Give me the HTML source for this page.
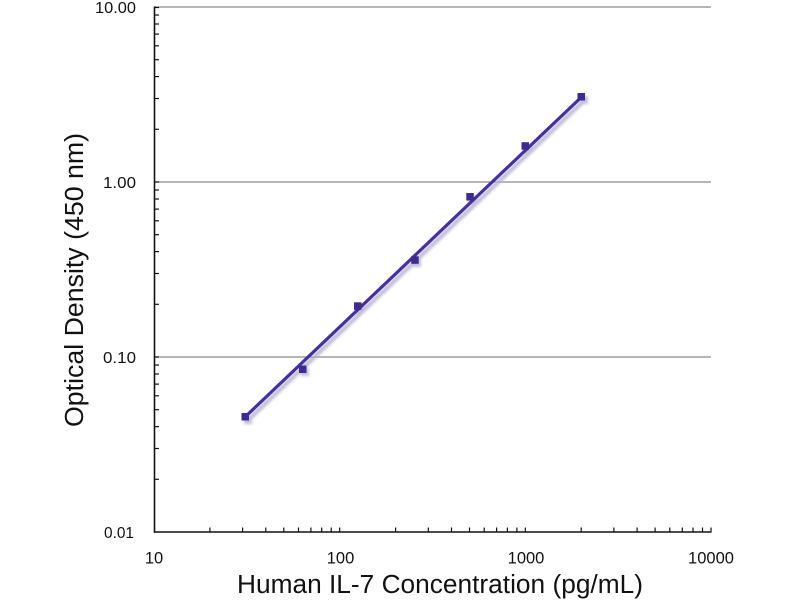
<!DOCTYPE html>
<html>
<head>
<meta charset="utf-8">
<style>
  html, body { margin: 0; padding: 0; background: #ffffff; }
  svg { display: block; }
  text { font-family: "Liberation Sans", "DejaVu Sans", sans-serif; fill: #111; }
</style>
</head>
<body>
<svg width="800" height="600" viewBox="0 0 800 600" xmlns="http://www.w3.org/2000/svg">
  <defs>
    <filter id="sh" x="-10%" y="-10%" width="120%" height="120%">
      <feGaussianBlur stdDeviation="1.2"/>
    </filter>
  </defs>
  <rect x="0" y="0" width="800" height="600" fill="#ffffff"/>

  <!-- gridlines -->
  <line x1="154" y1="7" x2="711" y2="7" stroke="#8a8a8a" stroke-width="1.3"/>
  <line x1="154" y1="182" x2="711" y2="182" stroke="#8a8a8a" stroke-width="1.3"/>
  <line x1="154" y1="357" x2="711" y2="357" stroke="#8a8a8a" stroke-width="1.3"/>

  <!-- y minor ticks -->
  <g stroke="#111" stroke-width="1.2">
    <line x1="154" x2="159" y1="479.3" y2="479.3"/>
    <line x1="154" x2="159" y1="448.5" y2="448.5"/>
    <line x1="154" x2="159" y1="426.6" y2="426.6"/>
    <line x1="154" x2="159" y1="409.7" y2="409.7"/>
    <line x1="154" x2="159" y1="395.8" y2="395.8"/>
    <line x1="154" x2="159" y1="384.1" y2="384.1"/>
    <line x1="154" x2="159" y1="374.0" y2="374.0"/>
    <line x1="154" x2="159" y1="365.0" y2="365.0"/>
    <line x1="154" x2="159" y1="357" y2="357"/>
    <line x1="154" x2="159" y1="304.3" y2="304.3"/>
    <line x1="154" x2="159" y1="273.5" y2="273.5"/>
    <line x1="154" x2="159" y1="251.6" y2="251.6"/>
    <line x1="154" x2="159" y1="234.7" y2="234.7"/>
    <line x1="154" x2="159" y1="220.8" y2="220.8"/>
    <line x1="154" x2="159" y1="209.1" y2="209.1"/>
    <line x1="154" x2="159" y1="199.0" y2="199.0"/>
    <line x1="154" x2="159" y1="190.0" y2="190.0"/>
    <line x1="154" x2="159" y1="182" y2="182"/>
    <line x1="154" x2="159" y1="129.3" y2="129.3"/>
    <line x1="154" x2="159" y1="98.5" y2="98.5"/>
    <line x1="154" x2="159" y1="76.6" y2="76.6"/>
    <line x1="154" x2="159" y1="59.7" y2="59.7"/>
    <line x1="154" x2="159" y1="45.8" y2="45.8"/>
    <line x1="154" x2="159" y1="34.1" y2="34.1"/>
    <line x1="154" x2="159" y1="24.0" y2="24.0"/>
    <line x1="154" x2="159" y1="15.0" y2="15.0"/>
    <line x1="154" x2="159" y1="7.5" y2="7.5"/>
  </g>

  <!-- x minor ticks -->
  <g stroke="#111" stroke-width="1.2">
    <line y1="532" y2="527.5" x1="209.9" x2="209.9"/>
    <line y1="532" y2="527.5" x1="242.6" x2="242.6"/>
    <line y1="532" y2="527.5" x1="265.8" x2="265.8"/>
    <line y1="532" y2="527.5" x1="283.8" x2="283.8"/>
    <line y1="532" y2="527.5" x1="298.5" x2="298.5"/>
    <line y1="532" y2="527.5" x1="310.9" x2="310.9"/>
    <line y1="532" y2="527.5" x1="321.7" x2="321.7"/>
    <line y1="532" y2="527.5" x1="331.2" x2="331.2"/>
    <line y1="532" y2="527.5" x1="339.7" x2="339.7"/>
    <line y1="532" y2="527.5" x1="395.6" x2="395.6"/>
    <line y1="532" y2="527.5" x1="428.3" x2="428.3"/>
    <line y1="532" y2="527.5" x1="451.5" x2="451.5"/>
    <line y1="532" y2="527.5" x1="469.5" x2="469.5"/>
    <line y1="532" y2="527.5" x1="484.2" x2="484.2"/>
    <line y1="532" y2="527.5" x1="496.6" x2="496.6"/>
    <line y1="532" y2="527.5" x1="507.4" x2="507.4"/>
    <line y1="532" y2="527.5" x1="516.9" x2="516.9"/>
    <line y1="532" y2="527.5" x1="525.3" x2="525.3"/>
    <line y1="532" y2="527.5" x1="581.2" x2="581.2"/>
    <line y1="532" y2="527.5" x1="613.9" x2="613.9"/>
    <line y1="532" y2="527.5" x1="637.1" x2="637.1"/>
    <line y1="532" y2="527.5" x1="655.1" x2="655.1"/>
    <line y1="532" y2="527.5" x1="669.8" x2="669.8"/>
    <line y1="532" y2="527.5" x1="682.3" x2="682.3"/>
    <line y1="532" y2="527.5" x1="693.0" x2="693.0"/>
    <line y1="532" y2="527.5" x1="702.5" x2="702.5"/>
    <line y1="532" y2="527.5" x1="711" x2="711"/>
  </g>

  <!-- axes -->
  <line x1="154.5" y1="6.5" x2="154.5" y2="532.8" stroke="#111" stroke-width="1.6"/>
  <line x1="154" y1="532" x2="711.5" y2="532" stroke="#111" stroke-width="1.6"/>

  <!-- series shadow -->
  <g filter="url(#sh)" opacity="0.8">
    <line x1="247.5" y1="420.5" x2="584" y2="100.5" stroke="#b3afd4" stroke-width="4.5"/>
    <rect x="244" y="416" width="8" height="8" fill="#b3afd4"/>
    <rect x="301" y="368" width="8" height="8" fill="#b3afd4"/>
    <rect x="356" y="305" width="8" height="8" fill="#b3afd4"/>
    <rect x="413" y="259" width="8" height="8" fill="#b3afd4"/>
    <rect x="468" y="196" width="8" height="8" fill="#b3afd4"/>
    <rect x="524" y="145" width="8" height="8" fill="#b3afd4"/>
    <rect x="580" y="96" width="8" height="8" fill="#b3afd4"/>
  </g>

  <!-- series line -->
  <line x1="245" y1="417" x2="581.5" y2="97" stroke="#46309a" stroke-width="3.2" stroke-linecap="round"/>

  <!-- markers -->
  <g fill="#3f2a8e">
    <rect x="241.5" y="413" width="7.5" height="7.5"/>
    <rect x="299" y="365.5" width="7.5" height="7.5"/>
    <rect x="354" y="302.3" width="7.5" height="7.5"/>
    <rect x="411.2" y="256.3" width="7.5" height="7.5"/>
    <rect x="466.3" y="193" width="7.5" height="7.5"/>
    <rect x="521.5" y="142.2" width="7.5" height="7.5"/>
    <rect x="577.5" y="93" width="7.5" height="7.5"/>
  </g>

  <!-- y tick labels -->
  <g font-size="16" text-anchor="end">
    <text x="136" y="13" textLength="41" lengthAdjust="spacingAndGlyphs">10.00</text>
    <text x="136" y="188" textLength="33" lengthAdjust="spacingAndGlyphs">1.00</text>
    <text x="136" y="363" textLength="33" lengthAdjust="spacingAndGlyphs">0.10</text>
    <text x="134" y="538" textLength="30" lengthAdjust="spacingAndGlyphs">0.01</text>
  </g>

  <!-- x tick labels -->
  <g font-size="16.5" text-anchor="middle">
    <text x="154" y="563.5">10</text>
    <text x="340.5" y="563.5">100</text>
    <text x="526" y="563.5">1000</text>
    <text x="711" y="563.5">10000</text>
  </g>

  <!-- axis titles -->
  <text x="237" y="593" font-size="25.5" textLength="406" lengthAdjust="spacingAndGlyphs">Human IL-7 Concentration (pg/mL)</text>
  <text transform="translate(83,427) rotate(-90)" x="0" y="0" font-size="25.5" textLength="294" lengthAdjust="spacingAndGlyphs">Optical Density (450 nm)</text>
</svg>
</body>
</html>
